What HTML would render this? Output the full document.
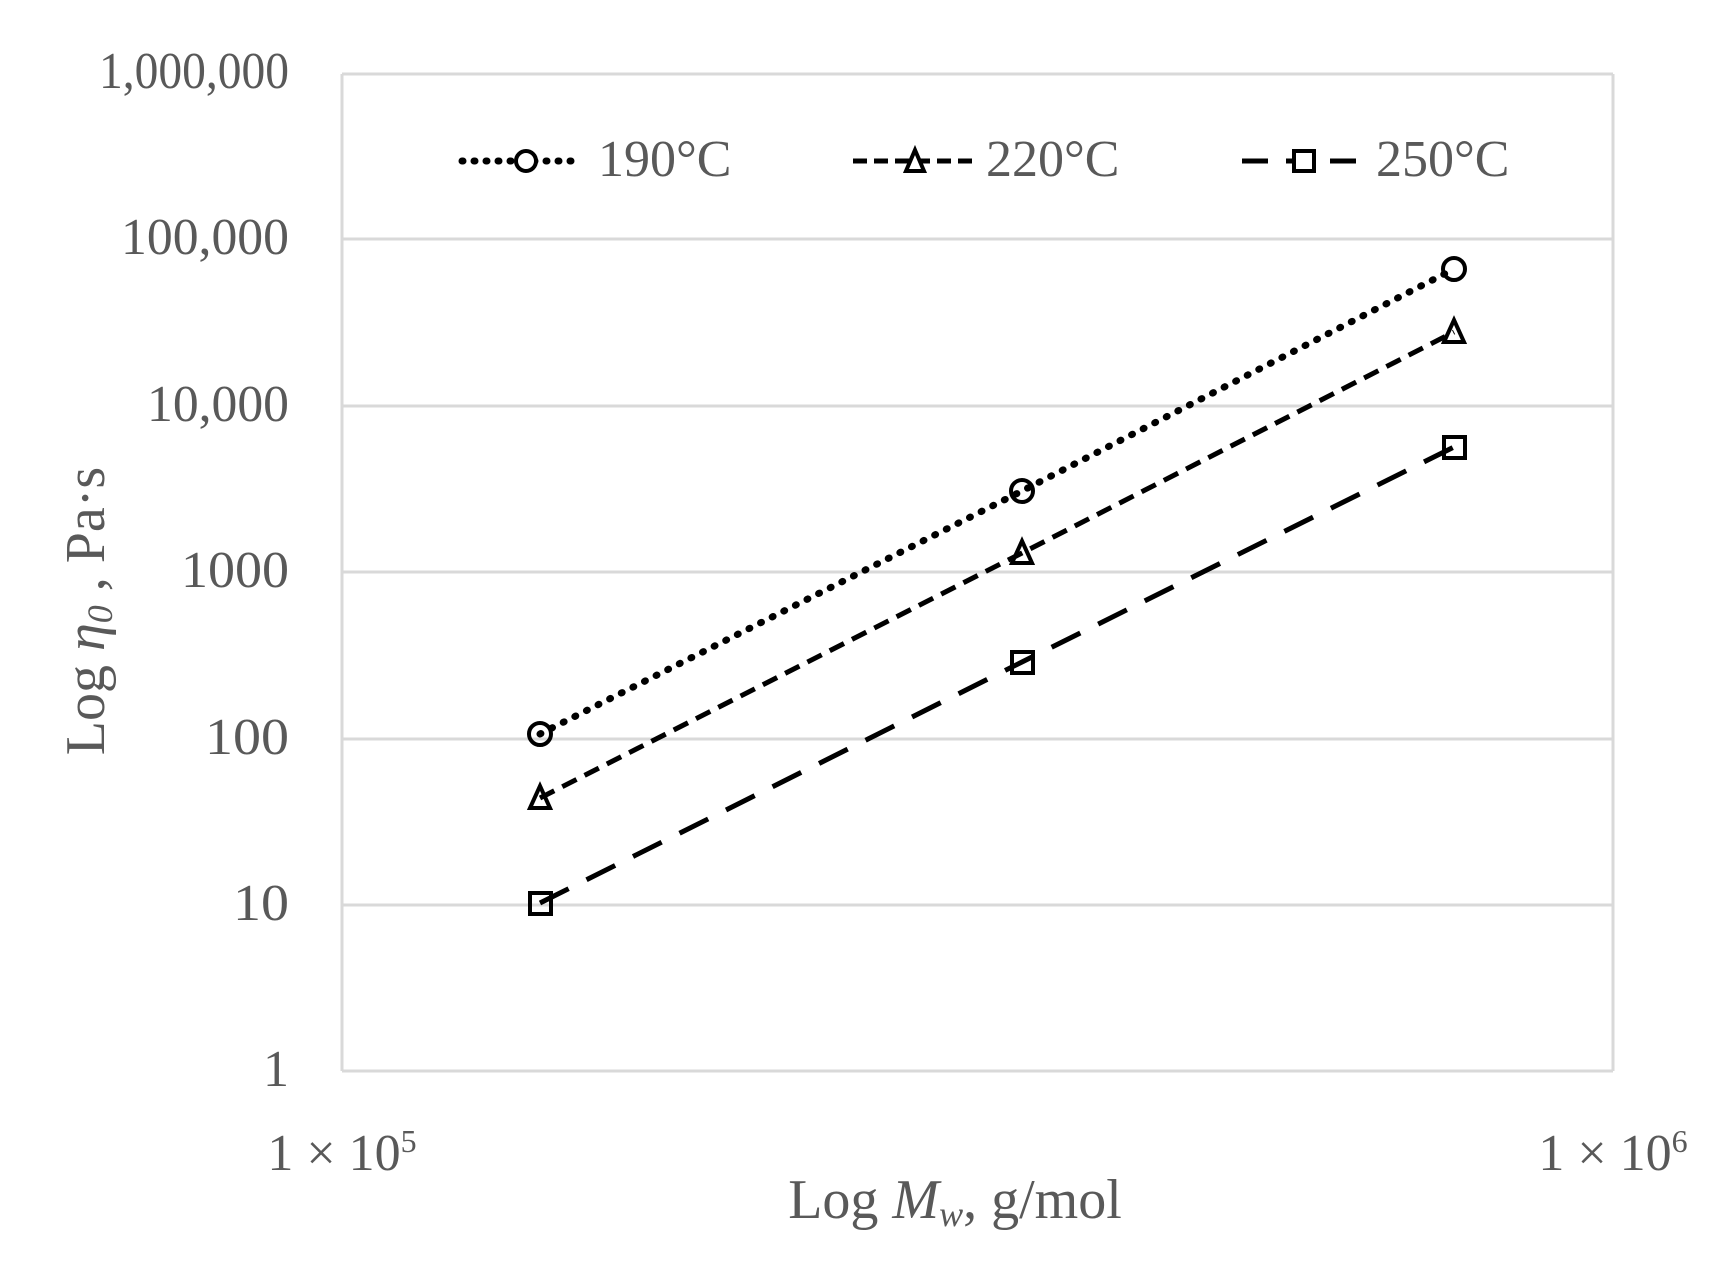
<!DOCTYPE html>
<html><head><meta charset="utf-8"><style>html,body{margin:0;padding:0;background:#fff}</style></head>
<body>
<svg width="1717" height="1261" viewBox="0 0 1717 1261" xmlns="http://www.w3.org/2000/svg" font-family="Liberation Serif, serif" fill="#595959">
<g stroke="#d9d9d9" stroke-width="3">
<line x1="342" y1="74" x2="1613" y2="74"/>
<line x1="342" y1="239" x2="1613" y2="239"/>
<line x1="342" y1="406" x2="1613" y2="406"/>
<line x1="342" y1="572" x2="1613" y2="572"/>
<line x1="342" y1="739" x2="1613" y2="739"/>
<line x1="342" y1="905" x2="1613" y2="905"/>
<line x1="342" y1="1071" x2="1613" y2="1071"/>
<line x1="342" y1="74" x2="342" y2="1071"/>
<line x1="1613" y1="74" x2="1613" y2="1071"/>
</g>
<g font-size="52" text-anchor="end">
<text x="289" y="88" textLength="190" lengthAdjust="spacingAndGlyphs">1,000,000</text>
<text x="289" y="254" textLength="168" lengthAdjust="spacingAndGlyphs">100,000</text>
<text x="289" y="421" textLength="142" lengthAdjust="spacingAndGlyphs">10,000</text>
<text x="289" y="587" textLength="108" lengthAdjust="spacingAndGlyphs">1000</text>
<text x="289" y="754" textLength="84" lengthAdjust="spacingAndGlyphs">100</text>
<text x="289" y="920" textLength="56" lengthAdjust="spacingAndGlyphs">10</text>
<text x="289" y="1086">1</text>
</g>
<g font-size="52" text-anchor="middle">
<text x="342" y="1170">1 × 10<tspan font-size="32" dy="-18">5</tspan></text>
<text x="1613" y="1170">1 × 10<tspan font-size="32" dy="-18">6</tspan></text>
<text x="955" y="1218" font-size="56">Log <tspan font-style="italic">M<tspan font-size="36" dy="8">w</tspan></tspan><tspan dy="-8">, g/mol</tspan></text>
<text transform="translate(104,611) rotate(-90)" font-size="56">Log <tspan font-style="italic">η<tspan font-size="36" dy="8">0</tspan></tspan><tspan dy="-8"> , Pa·s</tspan></text>
</g>
<g font-size="52">
<text x="598" y="176">190°C</text>
<text x="986" y="176">220°C</text>
<text x="1376" y="176">250°C</text>
</g>
<g fill="none" stroke="#000" stroke-width="5">
<line x1="462" y1="161" x2="581" y2="161" stroke-dasharray="1 11" stroke-linecap="round" stroke-width="7"/>
<circle cx="526" cy="161" r="10" fill="#fff" stroke-width="4"/>
<line x1="853" y1="161" x2="977" y2="161" stroke-dasharray="14 7"/>
<path d="M915 150 L924 171 L906 171 Z" fill="#fff" stroke-width="4"/>
<line x1="1242" y1="161" x2="1365" y2="161" stroke-dasharray="26 18"/>
<rect x="1294" y="151" width="20" height="20" fill="#fff" stroke-width="4"/>

<polyline points="540,734 1022,491 1454,269" stroke-dasharray="1 12" stroke-linecap="round" stroke-width="7"/>
<polyline points="540,798 1022,553 1454,332" stroke-dasharray="16 9"/>
<polyline points="540,903 1022,662 1454,447" stroke-dasharray="32 20"/>

<circle cx="540" cy="734" r="11" stroke-width="4"/>
<circle cx="1022" cy="491" r="11" stroke-width="4"/>
<circle cx="1454" cy="269" r="11" stroke-width="4"/>
<path d="M540 786 L550 808 L530 808 Z" stroke-width="4"/>
<path d="M1022 541 L1032 563 L1012 563 Z" stroke-width="4"/>
<path d="M1454 320 L1464 342 L1444 342 Z" stroke-width="4"/>
<rect x="530" y="893" width="21" height="21" stroke-width="4"/>
<rect x="1012" y="652" width="21" height="21" stroke-width="4"/>
<rect x="1444" y="437" width="21" height="21" stroke-width="4"/>
</g>
</svg>
</body></html>
